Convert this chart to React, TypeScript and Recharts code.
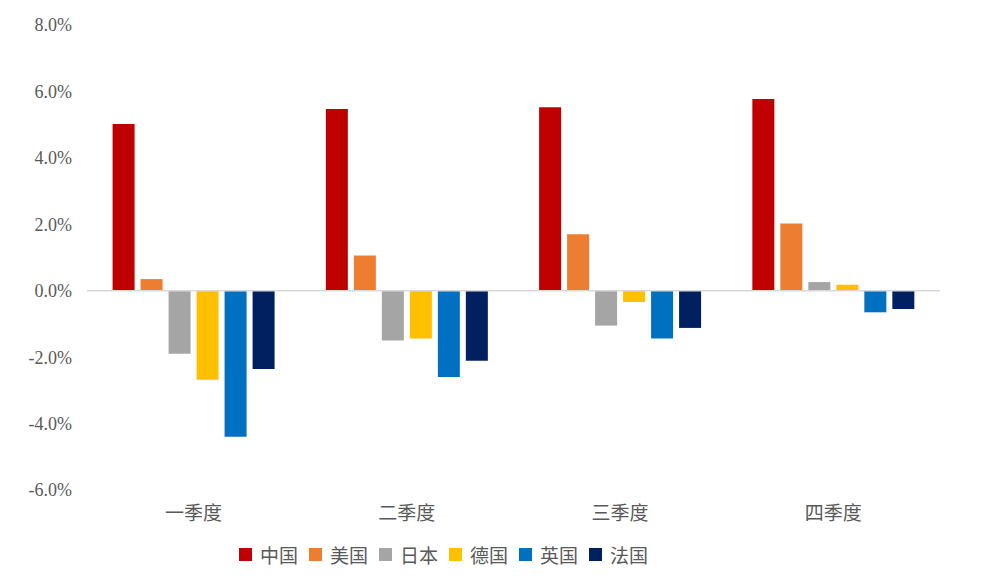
import { BarChart, Bar, XAxis, YAxis, Legend, ReferenceLine } from "recharts";

const quarters = ["一季度", "二季度", "三季度", "四季度"];
const china = [5.02, 5.47, 5.52, 5.77];
const usa = [0.35, 1.06, 1.7, 2.02];
const japan = [-1.9, -1.5, -1.05, 0.26];
const germany = [-2.68, -1.44, -0.34, 0.18];
const uk = [-4.4, -2.6, -1.44, -0.65];
const france = [-2.36, -2.11, -1.12, -0.55];
const yTicks = [-6, -4, -2, 0, 2, 4, 6, 8];

const SERIES = [
  { key: "中国", values: china, color: "#C00000" },
  { key: "美国", values: usa, color: "#ED7D31" },
  { key: "日本", values: japan, color: "#A5A5A5" },
  { key: "德国", values: germany, color: "#FFC000" },
  { key: "英国", values: uk, color: "#0070C0" },
  { key: "法国", values: france, color: "#002060" },
];

const data = quarters.map((q, i) => {
  const row: Record<string, string | number> = { quarter: q };
  SERIES.forEach((s) => {
    row[s.key] = s.values[i];
  });
  return row;
});

const FONT = "'Liberation Serif', 'DejaVu Serif', 'Noto Sans CJK SC', serif";
const TEXT = "#595959";

function LegendContent() {
  return (
    <div
      style={{
        display: "flex",
        justifyContent: "center",
        alignItems: "center",
        fontFamily: FONT,
        fontSize: 19,
        color: TEXT,
        paddingRight: 60,
      }}
    >
      {SERIES.map((s, i) => (
        <div
          key={s.key}
          style={{
            display: "flex",
            alignItems: "center",
            marginRight: i === SERIES.length - 1 ? 0 : 11,
          }}
        >
          <div
            style={{
              width: 13,
              height: 13,
              background: s.color,
              marginRight: 8,
            }}
          />
          <span>{s.key}</span>
        </div>
      ))}
    </div>
  );
}

export default function App() {
  return (
    <div style={{ position: "absolute", left: 0, top: 0, background: "#fff" }}>
      <BarChart
        width={1000}
        height={582}
        data={data}
        margin={{ top: 25, right: 60, left: 7, bottom: 52 }}
        barCategoryGap="12%"
        barGap={6}
      >
        <XAxis
          dataKey="quarter"
          axisLine={false}
          tickLine={false}
          tickSize={0}
          tickMargin={17}
          height={40}
          tick={{ fill: TEXT, fontSize: 19, fontFamily: FONT }}
          interval={0}
        />
        <YAxis
          domain={[-6, 8]}
          ticks={yTicks}
          width={80}
          axisLine={false}
          tickLine={false}
          tickSize={0}
          tickMargin={15}
          tick={{ fill: TEXT, fontSize: 18, fontFamily: FONT }}
          tickFormatter={(v: number) => v.toFixed(1) + "%"}
        />
        <ReferenceLine y={0} stroke="#D9D9D9" strokeWidth={1.5} />
        {SERIES.map((s) => (
          <Bar
            key={s.key}
            dataKey={s.key}
            fill={s.color}
            isAnimationActive={false}
          />
        ))}
        <Legend
          verticalAlign="middle"
          align="center"
          layout="horizontal"
          content={<LegendContent />}
          wrapperStyle={{ top: 541 }}
        />
      </BarChart>
    </div>
  );
}
